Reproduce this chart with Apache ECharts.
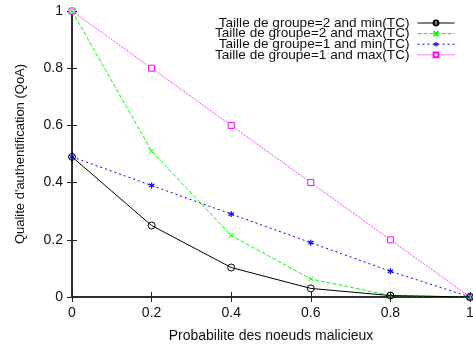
<!DOCTYPE html>
<html>
<head>
<meta charset="utf-8">
<script src="https://cdn.jsdelivr.net/npm/echarts@6/dist/echarts.min.js"></script>
<style>
  html, body { margin: 0; padding: 0; background: #fff; }
  #chart { width: 473px; height: 345px; }
</style>
</head>
<body>
<div id="chart"></div>
<script>
const xValues = [0, 0.2, 0.4, 0.6, 0.8, 1]
const g2Min = [0.49, 0.25, 0.103, 0.03, 0.005, 0]
const g2Max = [1, 0.51, 0.215, 0.063, 0.005, 0]
const g1Min = [0.49, 0.39, 0.29, 0.19, 0.09, 0]
const g1Max = [1, 0.8, 0.6, 0.4, 0.2, 0]
const names = [
  'Taille de groupe=2 and min(TC)',
  'Taille de groupe=2 and max(TC)',
  'Taille de groupe=1 and min(TC)',
  'Taille de groupe=1 and max(TC)'
]

const font = 'Liberation Sans, Arial, sans-serif'
const crossPath = 'path://M0,0L10,10M10,0L0,10'
const starPath = 'path://M4,0L6,0L6,3.5L9,1.5L10,3.3L7,5L10,6.7L9,8.5L6,6.5L6,10L4,10L4,6.5L1,8.5L0,6.7L3,5L0,3.3L1,1.5L4,3.5Z'

const pairs = arr => xValues.map((x, i) => [x, arr[i]])

const axisBase = {
  type: 'value',
  min: 0,
  max: 1,
  interval: 0.2,
  axisLine: { show: true, lineStyle: { color: '#222', width: 1.5 } },
  axisTick: { show: true, inside: true, length: 5, lineStyle: { color: '#222', width: 1 } },
  splitLine: { show: false },
}

const option = {
  animation: false,
  textStyle: { fontFamily: font },
  grid: { left: 72, right: 3, top: 11, bottom: 48, outerBoundsMode: 'none' },
  legend: {
    data: names,
    orient: 'vertical',
    right: 13,
    top: 11,
    align: 'right',
    itemGap: -3.4,
    itemWidth: 37,
    itemHeight: 6,
    lineStyle: { width: 1 },
    textStyle: { fontSize: 13.6, color: '#111', fontFamily: font, padding: [0, 3, 0, 0] },
  },
  xAxis: [
    {
      ...axisBase,
      position: 'bottom',
      name: 'Probabilite des noeuds malicieux',
      nameLocation: 'middle',
      nameGap: 32,
      nameTextStyle: { fontSize: 14, color: '#111' },
      axisLabel: { fontSize: 14, color: '#111', margin: 9, formatter: v => String(Math.round(v * 10) / 10) },
    },
    { ...axisBase, position: 'top', axisLabel: { show: false } }
  ],
  yAxis: [
    {
      ...axisBase,
      position: 'left',
      name: "Qualite d'authentification (QoA)",
      nameLocation: 'middle',
      nameGap: 45,
      nameTextStyle: { fontSize: 13, color: '#111' },
      axisLabel: { fontSize: 14, color: '#111', margin: 9, formatter: v => String(Math.round(v * 10) / 10) },
    },
    { ...axisBase, position: 'right', axisLabel: { show: false } }
  ],
  series: [
    {
      name: names[0],
      type: 'line',
      data: pairs(g2Min),
      symbol: 'circle',
      symbolSize: 7,
      itemStyle: { color: 'rgba(255,255,255,0)', borderColor: '#000', borderWidth: 1 },
      lineStyle: { color: '#000', width: 1 },
      z: 5,
    },
    {
      name: names[1],
      type: 'line',
      data: pairs(g2Max),
      symbol: crossPath,
      symbolSize: 5,
      itemStyle: { color: '#00ff00', borderColor: '#00ff00', borderWidth: 1 },
      lineStyle: { color: '#00ff00', width: 1, type: [4, 2] },
      z: 4,
    },
    {
      name: names[2],
      type: 'line',
      data: pairs(g1Min),
      symbol: starPath,
      symbolSize: 6,
      itemStyle: { color: '#0000ff' },
      lineStyle: { color: '#0000ff', width: 1, type: [2, 3] },
      z: 3,
    },
    {
      name: names[3],
      type: 'line',
      data: pairs(g1Max),
      symbol: 'rect',
      symbolSize: 6,
      itemStyle: { color: '#fff', borderColor: '#ff00ff', borderWidth: 1 },
      lineStyle: { color: '#ff00ff', width: 1, type: [1, 1] },
      z: 2,
    }
  ]
}

const chart = echarts.init(document.getElementById('chart'))
chart.setOption(option)
</script>
</body>
</html>
